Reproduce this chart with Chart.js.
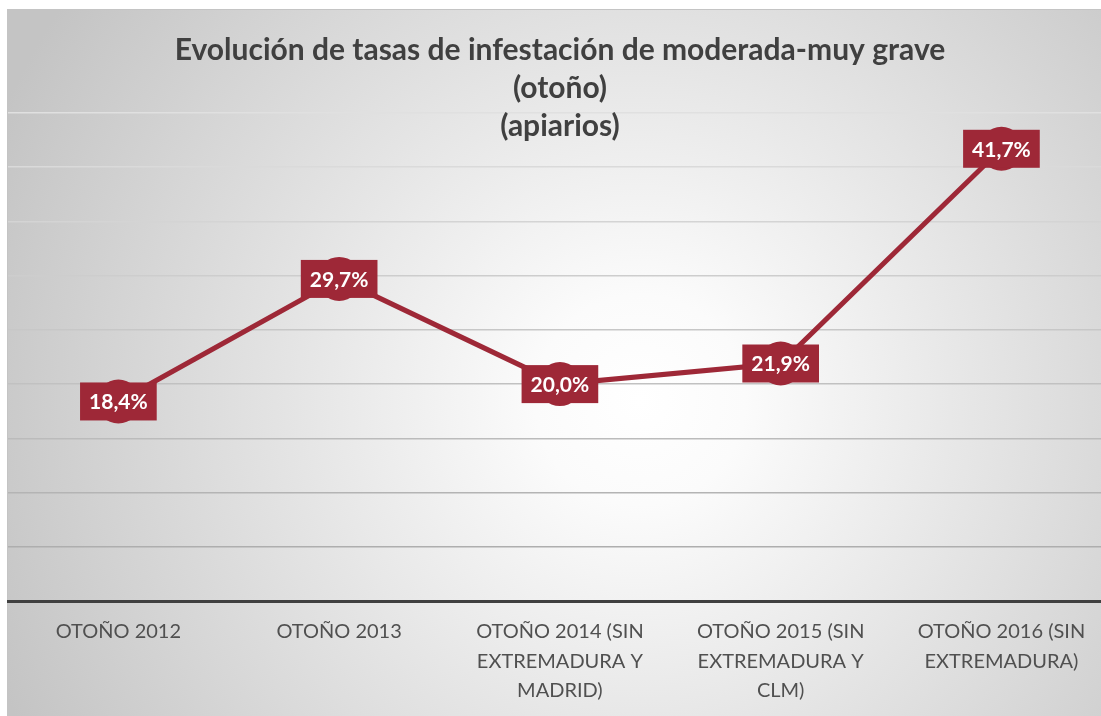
<!DOCTYPE html>
<html>
<head>
<meta charset="utf-8">
<script src="https://cdn.jsdelivr.net/npm/chart.js@4.4.1/dist/chart.umd.min.js"></script>
<style>
  html, body { margin: 0; padding: 0; background: #ffffff; }
  #wrap { width: 1101px; height: 716px; position: relative; }
</style>
</head>
<body>
<div id="wrap"><canvas id="chart"></canvas></div>
<script>
const categories = [
  ['OTOÑO 2012'],
  ['OTOÑO 2013'],
  ['OTOÑO 2014 (SIN', 'EXTREMADURA Y', 'MADRID)'],
  ['OTOÑO 2015 (SIN', 'EXTREMADURA Y', 'CLM)'],
  ['OTOÑO 2016 (SIN', 'EXTREMADURA)'],
];
const rates = [18.4, 29.7, 20.0, 21.9, 41.7];
const titleLines = ['Evolución de tasas de infestación de moderada-muy grave', '(otoño)', '(apiarios)'];

const crimson = '#9e2837';

// frame + soft radial background like the office chart
const backgroundPlugin = {
  id: 'background',
  beforeDraw(chart) {
    const { ctx, width, height } = chart;
    ctx.save();
    ctx.fillStyle = '#ffffff';
    ctx.fillRect(0, 0, width, height);
    const grad = ctx.createRadialGradient(640, 400, 0, 640, 400, 700);
    grad.addColorStop(0, '#ffffff');
    grad.addColorStop(0.15, '#fbfbfb');
    grad.addColorStop(1, '#c4c4c4');
    ctx.fillStyle = grad;
    ctx.fillRect(7, 9, width - 7, height - 9);
    ctx.strokeStyle = '#c4c4c4';
    ctx.lineWidth = 1;
    ctx.strokeRect(7.5, 9.5, width, height);
    ctx.restore();
  },
};

const titlePlugin = {
  id: 'overlayTitle',
  afterDraw(chart) {
    const { ctx } = chart;
    ctx.save();
    ctx.fillStyle = '#404040';
    ctx.font = 'bold 30px Lato';
    ctx.textAlign = 'center';
    ctx.textBaseline = 'alphabetic';
    const baselines = [60, 98, 136];
    titleLines.forEach((line, i) => ctx.fillText(line, 560, baselines[i]));
    ctx.restore();
  },
};

const valueLabelPlugin = {
  id: 'valueLabels',
  afterDatasetsDraw(chart) {
    const { ctx } = chart;
    const meta = chart.getDatasetMeta(0);
    ctx.save();
    ctx.font = 'bold 21px Lato';
    ctx.textAlign = 'center';
    ctx.textBaseline = 'middle';
    meta.data.forEach((point, i) => {
      const text = rates[i].toFixed(1).replace('.', ',') + '%';
      const w = ctx.measureText(text).width + 18;
      const h = 38;
      ctx.fillStyle = crimson;
      ctx.fillRect(point.x - w / 2, point.y - h / 2, w, h);
      ctx.fillStyle = '#ffffff';
      ctx.fillText(text, point.x, point.y + 1);
    });
    ctx.restore();
  },
};

new Chart(document.getElementById('chart'), {
  type: 'line',
  data: {
    datasets: [
      {
        data: rates.map((v, i) => ({ x: i, y: v })),
        borderColor: crimson,
        borderWidth: 5,
        pointRadius: 22,
        pointHoverRadius: 22,
        pointBackgroundColor: crimson,
        pointBorderWidth: 0,
        tension: 0,
        clip: false,
      },
    ],
  },
  options: {
    responsive: true,
    maintainAspectRatio: false,
    animation: false,
    layout: { autoPadding: false, padding: { top: 113, left: 8, right: 0, bottom: 0 } },
    plugins: {
      legend: { display: false },
      tooltip: { enabled: false },
    },
    scales: {
      x: {
        type: 'linear',
        min: -0.5,
        max: 4.451,
        afterBuildTicks: (axis) => {
          axis.ticks = categories.map((_, i) => ({ value: i }));
        },
        afterFit: (scale) => {
          scale.height = 115;
          scale.paddingLeft = 0;
          scale.paddingRight = 0;
        },
        grid: { display: false, drawTicks: false },
        border: { display: true, color: '#404040', width: 3 },
        ticks: {
          autoSkip: false,
          maxRotation: 0,
          minRotation: 0,
          padding: 16,
          color: '#505050',
          font: { family: 'Lato', size: 20, lineHeight: '29.5px' },
          callback: (value) => categories[value],
        },
      },
      y: {
        min: 0,
        max: 45,
        afterFit: (scale) => {
          scale.width = 0;
          scale.paddingTop = 0;
          scale.paddingBottom = 0;
        },
        ticks: { display: false, stepSize: 5 },
        border: { display: false },
        grid: {
          drawTicks: false,
          lineWidth: 1.5,
          color: (ctx) => {
            const g = Math.round(168 + (ctx.tick.value / 45) * 56);
            return `rgb(${g},${g},${g})`;
          },
        },
      },
    },
  },
  plugins: [backgroundPlugin, titlePlugin, valueLabelPlugin],
});
</script>
</body>
</html>
